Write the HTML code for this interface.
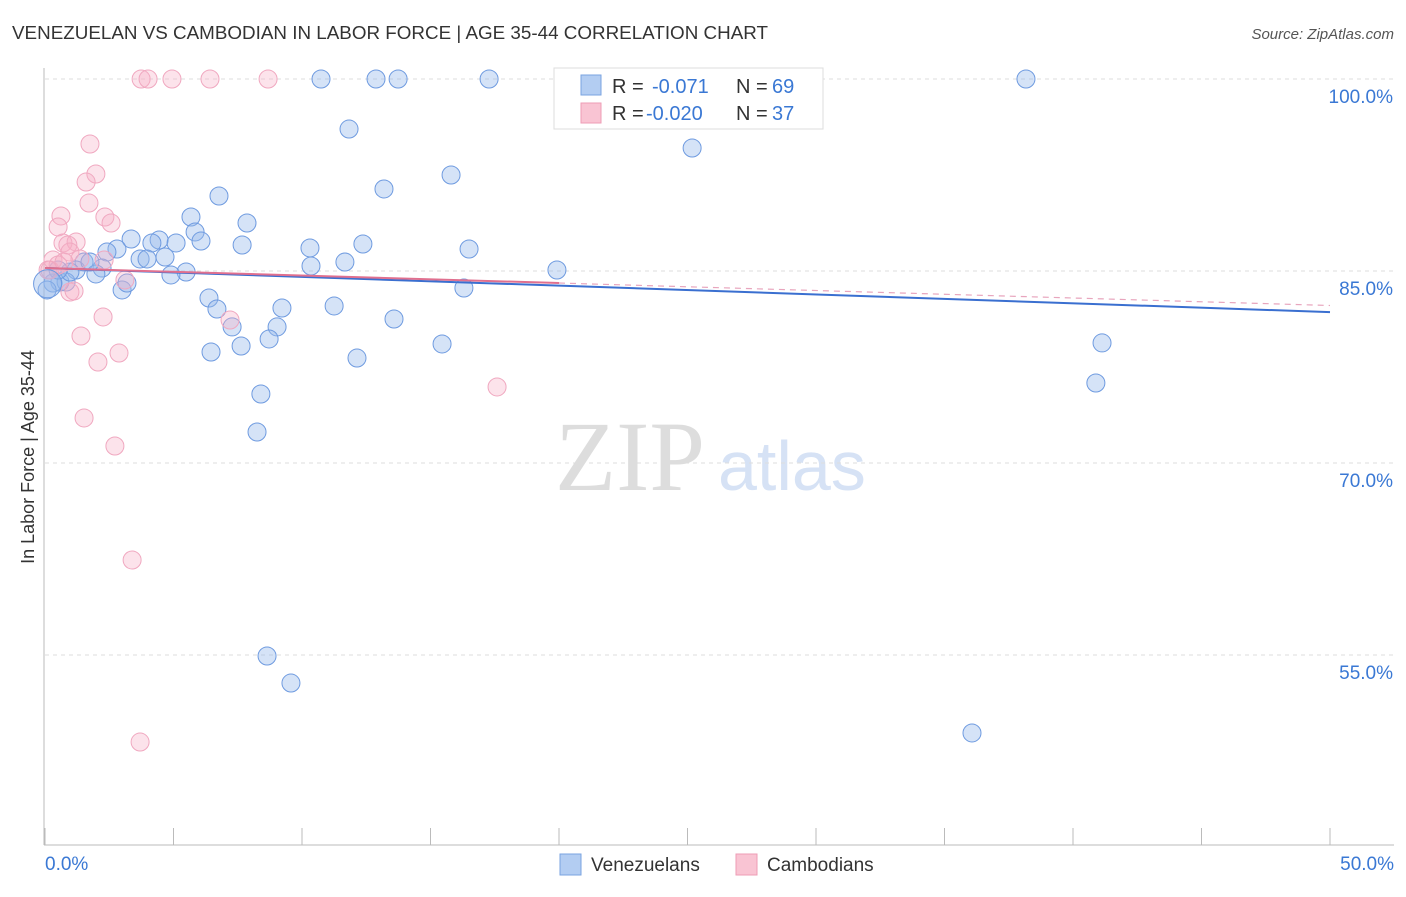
<!DOCTYPE html>
<html><head><meta charset="utf-8">
<style>
body{margin:0;background:#fff;font-family:"Liberation Sans",sans-serif;}
svg text{font-family:"Liberation Sans",sans-serif;}
</style></head>
<body>
<svg id="chart" width="1406" height="892">
<text x="12" y="39" font-size="18" fill="#333" textLength="756" lengthAdjust="spacingAndGlyphs">VENEZUELAN VS CAMBODIAN IN LABOR FORCE | AGE 35-44 CORRELATION CHART</text>
<text x="1394" y="39" font-size="15" fill="#555" font-style="italic" text-anchor="end">Source: ZipAtlas.com</text>
<text x="555" y="490" font-size="100" fill="#ddd" style="font-family:'Liberation Serif',serif">ZIP</text>
<text x="718" y="490" font-size="70" fill="#d6e2f5">atlas</text>
<g id="grid"></g>
<g id="axes"></g>
<g id="marks"></g>
<text transform="translate(34,457) rotate(-90)" font-size="18" fill="#333" text-anchor="middle">In Labor Force | Age 35-44</text>
<g>
<rect x="554" y="68" width="269" height="61" fill="#fff" stroke="#ddd"/>
<rect x="581" y="75" width="20" height="20" fill="#b3cdf2" stroke="#7aa3e0"/>
<rect x="581" y="103" width="20" height="20" fill="#f9c4d3" stroke="#ee9cb6"/>
<text x="612" y="93" font-size="20" fill="#333">R =</text>
<text x="652" y="93" font-size="20" fill="#3a78d4">-0.071</text>
<text x="736" y="93" font-size="20" fill="#333">N =</text>
<text x="772" y="93" font-size="20" fill="#3a78d4">69</text>
<text x="612" y="120" font-size="20" fill="#333">R =</text>
<text x="646" y="120" font-size="20" fill="#3a78d4">-0.020</text>
<text x="736" y="120" font-size="20" fill="#333">N =</text>
<text x="772" y="120" font-size="20" fill="#3a78d4">37</text>
</g>
<g>
<rect x="560" y="854" width="21" height="21" fill="#b3cdf2" stroke="#7aa3e0"/>
<text x="591" y="871" font-size="19" fill="#333">Venezuelans</text>
<rect x="736" y="854" width="21" height="21" fill="#f9c4d3" stroke="#ee9cb6"/>
<text x="767" y="871" font-size="19" fill="#333">Cambodians</text>
</g>
</svg>
<script>
const yTicks=[100,85,70,55];
const xTickLabels=["0.0%","50.0%"];
const blueX=[10.74,12.88,13.74,17.28,38.17,11.83,25.18,15.80,13.19,6.77,5.68,7.86,5.84,3.35,4.44,6.07,4.16,5.10,7.67,10.31,12.37,16.50,2.80,2.41,3.70,4.67,3.97,11.67,10.35,1.52,2.22,1.21,1.98,5.49,4.90,19.92,0.58,0.82,0.31,0.08,3.00,3.19,6.38,6.69,9.22,11.25,7.28,9.03,13.58,8.72,7.63,6.46,15.45,12.14,41.13,40.89,8.40,8.25,8.64,9.57,36.07,16.30,0.97,1.75,0.51];
const blueY=[100,100,100,100,100,96.09,94.61,92.50,91.41,90.86,89.22,88.75,88.05,87.50,87.42,87.34,87.19,87.19,87.03,86.80,87.11,86.72,86.72,86.48,85.94,86.09,85.94,85.70,85.39,85.70,85.23,85.08,84.77,84.92,84.69,85.08,84.14,84.14,84.06,83.52,83.52,84.06,82.89,82.03,82.11,82.27,80.63,80.63,81.25,79.69,79.14,78.67,79.30,78.20,79.38,76.25,75.39,72.42,54.92,52.81,48.91,83.67,84.92,85.70,85.08];
const pinkX=[3.74,4.01,4.94,6.42,8.68,1.75,1.98,1.60,1.71,0.62,2.33,2.57,0.51,0.70,1.21,0.89,0.97,0.31,0.51,0.19,1.36,0.74,2.30,3.11,0.97,1.13,2.26,7.20,1.40,2.88,2.06,17.59,1.52,2.72,3.39,3.70,0.12];
const pinkY=[100,100,100,100,100,94.92,92.58,91.95,90.31,89.30,89.22,88.75,88.44,87.19,87.27,87.03,86.48,85.86,85.47,85.08,85.94,85.70,85.86,84.30,83.36,83.44,81.41,81.17,79.92,78.59,77.89,75.94,73.52,71.33,62.42,48.20,85.08];
const blueTrend=[85.23,-0.0688];
const pinkTrend=[85.23,-0.0585];
const NS="http://www.w3.org/2000/svg";
const xs=v=>45+v*25.7, ys=v=>79+(100-v)*12.8;
function mk(tag,attrs,parent){const e=document.createElementNS(NS,tag);for(const k in attrs)e.setAttribute(k,attrs[k]);parent.appendChild(e);return e;}
const grid=document.getElementById('grid'),axes=document.getElementById('axes'),marks=document.getElementById('marks');
yTicks.forEach(t=>{
 const l=mk('line',{x1:45,x2:1394,y1:ys(t),y2:ys(t),stroke:'#ddd','stroke-dasharray':'4,4'},grid);
 
 
 const tx=mk('text',{x:1393,y:ys(t)+24,'font-size':19,fill:'#3a78d4','text-anchor':'end'},grid);
 tx.textContent=t.toFixed(1)+'%';
 
 
});
mk('line',{x1:44,x2:44,y1:68,y2:845,stroke:'#bbb'},axes);
mk('line',{x1:44,x2:1394,y1:845,y2:845,stroke:'#bbb'},axes);
for(let i=0;i<=10;i++){const t=mk('line',{x1:xs(i*5),x2:xs(i*5),y1:828,y2:845,stroke:'#bbb'},axes);
 
 }
xTickLabels.forEach((s,i)=>{const t=mk('text',{x:i?1394:45,y:870,'font-size':19,fill:'#3a78d4','text-anchor':i?'end':'start'},axes);t.textContent=s;
 
 });
blueX.forEach((x,i)=>{const c=mk('circle',{cx:xs(x),cy:ys(blueY[i]),r:9,fill:'rgba(150,185,235,0.4)',stroke:'#6f9be0','stroke-width':1},marks);
 
 });
pinkX.forEach((x,i)=>{const c=mk('circle',{cx:xs(x),cy:ys(pinkY[i]),r:9,fill:'rgba(245,175,198,0.35)',stroke:'#f0a8c0','stroke-width':1},marks);
 
 });
const big=mk('circle',{cx:xs(0.1),cy:ys(84.0),r:14,fill:'rgba(150,185,235,0.4)',stroke:'#6f9be0'},marks);


const d=mk('line',{x1:xs(20),y1:ys(pinkTrend[0]+pinkTrend[1]*20),x2:xs(50),y2:ys(pinkTrend[0]+pinkTrend[1]*50),stroke:'#e8a5bd','stroke-dasharray':'6,5','stroke-width':1.2},marks);


const bl=mk('line',{x1:xs(0),y1:ys(blueTrend[0]),x2:xs(50),y2:ys(blueTrend[0]+blueTrend[1]*50),stroke:'#3a6fd0','stroke-width':2},marks);


const pl=mk('line',{x1:xs(0),y1:ys(pinkTrend[0]),x2:xs(20),y2:ys(pinkTrend[0]+pinkTrend[1]*20),stroke:'#e0708f','stroke-width':2},marks);


</script>
</body></html>
